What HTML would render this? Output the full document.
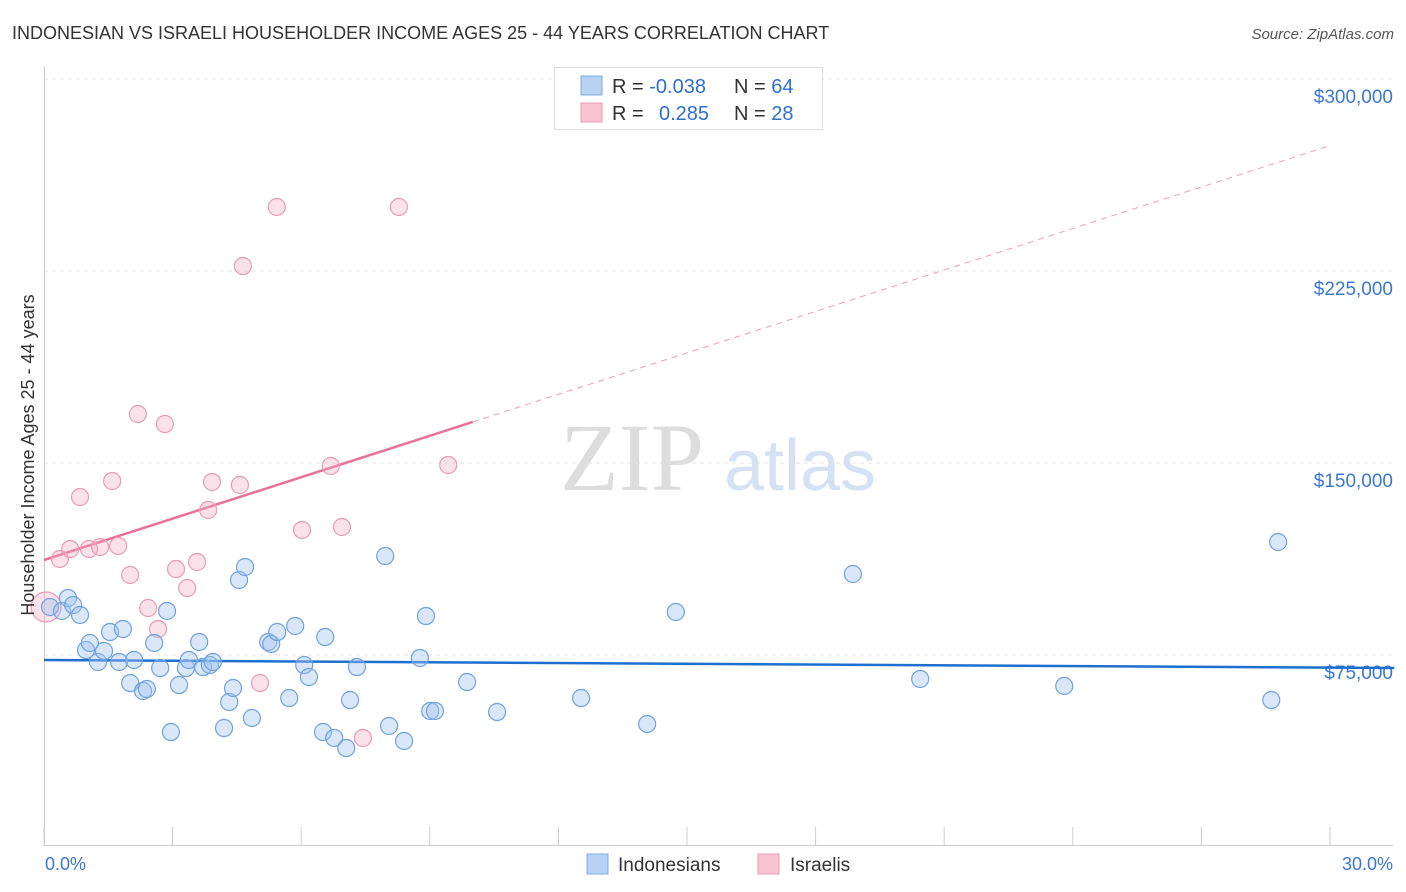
<!DOCTYPE html>
<html><head><meta charset="utf-8"><style>
body{margin:0;background:#fff;font-family:"Liberation Sans",sans-serif;}
svg{display:block}
</style></head><body>
<svg id="chart" width="1406" height="892">
<text x="12" y="39" font-size="18" fill="#333">INDONESIAN VS ISRAELI HOUSEHOLDER INCOME AGES 25 - 44 YEARS CORRELATION CHART</text>
<text x="1394" y="39" font-size="15" fill="#555" font-style="italic" text-anchor="end">Source: ZipAtlas.com</text>
<g>
<text x="632" y="490" font-size="96" fill="#ddd" font-family="Liberation Serif,serif" text-anchor="middle">ZIP</text>
<text x="800" y="490" font-size="72" fill="#d4e2f4" text-anchor="middle">atlas</text>
</g>
<g id="grid"></g>
<g id="axes"></g>
<g id="trend"></g>
<g id="points"></g>
<text transform="translate(34,455) rotate(-90)" font-size="18" fill="#333" text-anchor="middle">Householder Income Ages 25 - 44 years</text>
<text x="45" y="870" font-size="18" fill="#3a78d4">0.0%</text>
<text x="1393" y="870" font-size="18" fill="#3a78d4" text-anchor="end">30.0%</text>
<g>
<rect x="554.5" y="67.5" width="268" height="62" fill="#fff" stroke="#ddd"/>
<rect x="581" y="76" width="21" height="19" fill="#b8d2f4" stroke="#7eaee6"/>
<rect x="581" y="103" width="21" height="19" fill="#f8c4d4" stroke="#eb9ab4"/>
<text x="612" y="93" font-size="20" fill="#333">R = <tspan fill="#2f6fd0">-0.038</tspan></text>
<text x="734" y="93" font-size="20" fill="#333">N = <tspan fill="#2f6fd0">64</tspan></text>
<text x="612" y="120" font-size="20" fill="#333">R = <tspan fill="#2f6fd0" x="659">0.285</tspan></text>
<text x="734" y="120" font-size="20" fill="#333">N = <tspan fill="#2f6fd0">28</tspan></text>
</g>
<g>
<rect x="587" y="854" width="21" height="20" fill="#b8d2f4" stroke="#7eaee6"/>
<text x="618" y="871" font-size="19" fill="#333">Indonesians</text>
<rect x="758" y="854" width="21" height="20" fill="#f8c4d4" stroke="#eb9ab4"/>
<text x="790" y="871" font-size="19" fill="#333">Israelis</text>
</g>
</svg>
<script>
const yTicks=[75000,150000,225000,300000];
const yTickLabels=["$75,000","$150,000","$225,000","$300,000"];
const xTicks=[0,3,6,9,12,15,18,21,24,27,30];
const blueX=[0.14,0.42,0.56,0.68,0.84,0.98,1.07,1.26,1.40,1.54,1.75,1.84,2.10,2.01,2.31,2.40,2.57,2.71,2.87,2.96,3.15,3.31,3.38,3.62,3.71,3.87,3.94,4.20,4.32,4.41,4.55,4.69,4.85,5.23,5.30,5.44,5.72,5.86,6.07,6.18,6.51,6.56,6.77,7.05,7.14,7.30,7.96,8.05,8.40,8.77,8.91,9.01,9.12,9.87,10.57,12.53,14.07,14.74,18.87,20.44,23.80,28.63,28.79];
const blueY=[93750,92190,97270,94530,90630,76950,79690,72270,76560,83980,72270,85160,73050,64060,60940,61720,79690,69920,92190,44920,63280,69920,73050,80080,70310,71090,72270,46480,56640,62110,104300,109380,50390,80080,79300,83980,58200,86330,71090,66410,44920,82030,42580,38670,57420,70310,113670,47270,41410,73830,90230,53130,53130,64450,52730,58200,48050,91800,106640,65630,62890,57420,119140];
const pinkX=[0.05,0.37,0.61,0.84,1.05,1.31,1.59,1.73,2.01,2.19,2.43,2.66,2.82,3.08,3.34,3.57,3.83,3.92,4.57,4.64,5.04,5.43,6.02,6.69,6.95,7.44,8.28,9.43];
const pinkY=[93750,112500,116410,136720,116410,117190,142970,117580,106250,169140,93360,85160,165230,108590,101170,111330,131640,142580,141410,226950,64060,250000,123830,148830,125000,42580,250000,149220];
const blueTrend=[[0,73050],[31.5,69920]];
const pinkTrendSolid=[[0,112110],[10,166020]];
const pinkTrendDash=[[10,166020],[30,274000]];
const NS="http://www.w3.org/2000/svg";
const xs=v=>44+v*1286/30;
const ys=v=>847-v*192/75000;
function mk(tag,attrs,parent){const e=document.createElementNS(NS,tag);for(const k in attrs)e.setAttribute(k,attrs[k]);parent.appendChild(e);return e;}
const grid=document.getElementById('grid'),axes=document.getElementById('axes'),trend=document.getElementById('trend'),pts=document.getElementById('points');
yTicks.forEach((t,i)=>{
 const l=mk('line',{x1:44,x2:1393,y1:ys(t),y2:ys(t),stroke:'#e3e3e3','stroke-dasharray':'4,4'},grid);
 
 
 const tx=mk('text',{x:1393,y:ys(t)+24,'font-size':19,fill:'#3a78d4','text-anchor':'end'},axes);
 tx.textContent=yTickLabels[i];
 
 
});
const ax=mk('line',{x1:44,x2:1393,y1:845.5,y2:845.5,stroke:'#ccc'},axes);


const ay=mk('line',{x1:44.5,x2:44.5,y1:67,y2:846,stroke:'#ccc'},axes);


xTicks.forEach(t=>{
 const l=mk('line',{x1:xs(t),x2:xs(t),y1:827,y2:846,stroke:'#ccc'},axes);
 
 
});
function line(p,attrs,name){const l=mk('line',Object.assign({x1:xs(p[0][0]),y1:ys(p[0][1]),x2:xs(p[1][0]),y2:ys(p[1][1])},attrs),trend);
 
 }
pinkX.forEach((x,i)=>{
 const c=mk('circle',{cx:xs(x),cy:ys(pinkY[i]),r:i===0?15:8.5,fill:'rgba(244,170,196,0.35)',stroke:'#e99bb6','stroke-width':1.2},pts);
 
 
});
blueX.forEach((x,i)=>{
 const c=mk('circle',{cx:xs(x),cy:ys(blueY[i]),r:8.5,fill:'rgba(160,196,240,0.4)',stroke:'#6fa2de','stroke-width':1.2},pts);
 
 
});
line(blueTrend,{stroke:'#1f6fd0','stroke-width':2.5},'indonesian-trend-line');
line(pinkTrendSolid,{stroke:'#e8709a','stroke-width':2.5},'israeli-trend-line');
line(pinkTrendDash,{stroke:'#eba0b8','stroke-width':1,'stroke-dasharray':'6,5'},'israeli-trend-extension');
</script>
</body></html>
